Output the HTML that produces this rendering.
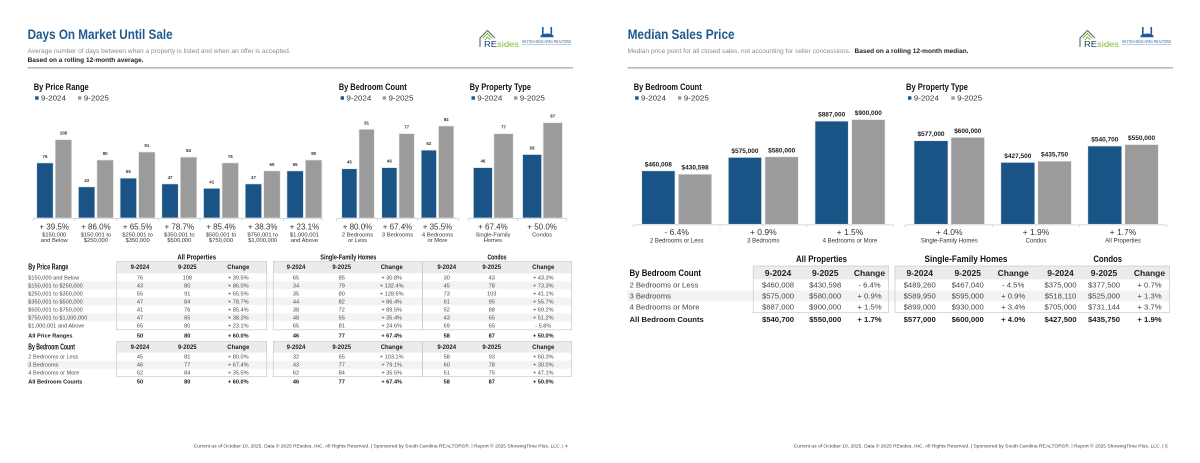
<!DOCTYPE html>
<html><head><meta charset="utf-8"><style>
html,body{margin:0;padding:0;background:#fff}
svg{display:block}
text{font-family:"Liberation Sans",Arial,sans-serif}
.h{font-family:"Liberation Sans Narrow","Liberation Sans",sans-serif;font-weight:bold;fill:#111}
.lg{font-size:7.2px;fill:#333}
.v{font-size:4.4px;font-weight:bold;fill:#333;text-anchor:middle}
.vr{font-size:6.5px;font-weight:bold;fill:#222;text-anchor:middle}
.p{font-size:8px;fill:#333;text-anchor:middle}
.pl{font-size:5.8px;fill:#333;text-anchor:middle}
.pr{font-size:8.5px;fill:#333;text-anchor:middle}
.plr{font-size:6px;fill:#333;text-anchor:middle}
.n{fill:#1a5486;stroke:#dfe7ef;stroke-width:0.7}
.g{fill:#9b9b9b;stroke:#e6e6e6;stroke-width:0.7}
.ax{stroke:#cdd7e2;stroke-width:0.9;fill:none}
.d{font-size:5.6px;fill:#4a4a4a;text-anchor:middle}
.dl{font-size:5.6px;fill:#4a4a4a}
.db{font-size:5.6px;fill:#1a1a1a;font-weight:bold;text-anchor:middle}
.dbl{font-size:5.6px;fill:#1a1a1a;font-weight:bold}
.th{font-family:"Liberation Sans Narrow","Liberation Sans",sans-serif;font-weight:bold;font-size:6px;fill:#222;text-anchor:middle}
.R{font-size:7.7px;fill:#444;text-anchor:middle}
.Rl{font-size:7.7px;fill:#444}
.Rb{font-size:7.7px;fill:#1a1a1a;font-weight:bold;text-anchor:middle}
.Rbl{font-size:7.7px;fill:#1a1a1a;font-weight:bold}
.Rth{font-family:"Liberation Sans Narrow","Liberation Sans",sans-serif;font-weight:bold;font-size:8.5px;fill:#222;text-anchor:middle}
.hb{fill:#ebebeb;stroke:none}
.bx{fill:none;stroke:#c9c9c9;stroke-width:0.7}
.sh{fill:#f3f3f3}
.ft{font-size:4.8px;fill:#444;text-anchor:end}
</style></head><body>
<svg width="1200" height="463" viewBox="0 0 1200 463" xmlns="http://www.w3.org/2000/svg">
<rect width="1200" height="463" fill="#fff"/>

<!-- ================= LEFT PAGE ================= -->
<text x="27.6" y="38.8" font-size="13.5" font-weight="bold" fill="#1f5a8e" textLength="145" lengthAdjust="spacingAndGlyphs">Days On Market Until Sale</text>
<text x="27.6" y="52.8" font-size="6.6" fill="#8a8a8a" textLength="263" lengthAdjust="spacingAndGlyphs">Average number of days between when a property is listed and when an offer is accepted.</text>
<text x="27.6" y="61.8" font-size="6.6" font-weight="bold" fill="#222" textLength="116" lengthAdjust="spacingAndGlyphs">Based on a rolling 12-month average.</text>
<rect x="27.6" y="67" width="545.4" height="1.6" fill="#b8b8b8"/>

<!-- logo left -->
<g>
<path d="M480 47 V38 L487.5 30.5 L495 38" stroke="#5b6670" fill="none" stroke-width="1.1"/>
<path d="M482.8 38.2 L487.5 33.6 L492.2 38.2" stroke="#7cb82f" fill="none" stroke-width="1"/>
<path d="M485 39.6 L487.5 37.1 L490 39.6" stroke="#7cb82f" fill="none" stroke-width="1"/>
<text x="484" y="47" font-size="8.5" textLength="35" lengthAdjust="spacingAndGlyphs"><tspan fill="#1c3d6e">RE</tspan><tspan fill="#7cb82f">sides</tspan></text>
<rect x="542" y="27" width="1.6" height="8" fill="#1c5d99"/>
<rect x="550.5" y="27" width="1.6" height="8" fill="#1c5d99"/>
<path d="M540.5 35.5 Q547 31.5 553.5 35.5 V37.3 H540.5Z" fill="#1c5d99"/>
<text x="522" y="43" font-size="4.3" fill="#2a6aa8" textLength="49" lengthAdjust="spacingAndGlyphs">HILTON HEAD AREA REALTORS</text>
<rect x="522" y="44.4" width="49" height="0.6" fill="#8aa9c8"/>
</g>

<!-- headings & legends -->
<text x="33.7" y="89.8" class="h" font-size="9.2" textLength="55" lengthAdjust="spacingAndGlyphs">By Price Range</text>
<rect x="35.2" y="96.3" width="3.4" height="3.4" fill="#1a5486"/><text x="41" y="100.3" class="lg" textLength="25" lengthAdjust="spacingAndGlyphs">9-2024</text>
<rect x="78" y="96.3" width="3.4" height="3.4" fill="#9b9b9b"/><text x="83.8" y="100.3" class="lg" textLength="25" lengthAdjust="spacingAndGlyphs">9-2025</text>

<text x="338.7" y="89.8" class="h" font-size="9.2" textLength="68" lengthAdjust="spacingAndGlyphs">By Bedroom Count</text>
<rect x="340.6" y="96.3" width="3.4" height="3.4" fill="#1a5486"/><text x="346.4" y="100.3" class="lg" textLength="25" lengthAdjust="spacingAndGlyphs">9-2024</text>
<rect x="382.7" y="96.3" width="3.4" height="3.4" fill="#9b9b9b"/><text x="388.5" y="100.3" class="lg" textLength="25" lengthAdjust="spacingAndGlyphs">9-2025</text>

<text x="469.6" y="89.8" class="h" font-size="9.2" textLength="61.4" lengthAdjust="spacingAndGlyphs">By Property Type</text>
<rect x="471.5" y="96.3" width="3.4" height="3.4" fill="#1a5486"/><text x="477.3" y="100.3" class="lg" textLength="25" lengthAdjust="spacingAndGlyphs">9-2024</text>
<rect x="514" y="96.3" width="3.4" height="3.4" fill="#9b9b9b"/><text x="519.8" y="100.3" class="lg" textLength="25" lengthAdjust="spacingAndGlyphs">9-2025</text>

<!-- Price range chart -->
<path class="ax" d="M33.3 218.5 H322 M33.3 218.5 V221 M75 218.5 V221 M116.7 218.5 V221 M158.4 218.5 V221 M200.1 218.5 V221 M241.8 218.5 V221 M283.5 218.5 V221 M322 218.5 V221"/>
<rect class="n" x="36.7" y="162.9" width="16.5" height="55.1"/><rect class="g" x="55.2" y="139.7" width="16.5" height="78.3"/>
<text class="v" x="44.95" y="157.9">76</text><text class="v" x="63.45" y="134.7">108</text>
<rect class="n" x="78.4" y="186.8" width="16.5" height="31.2"/><rect class="g" x="96.9" y="160" width="16.5" height="58"/>
<text class="v" x="86.65" y="181.8">43</text><text class="v" x="105.15" y="155">80</text>
<rect class="n" x="120.1" y="178.1" width="16.5" height="39.9"/><rect class="g" x="138.6" y="152" width="16.5" height="66"/>
<text class="v" x="128.35" y="173.1">55</text><text class="v" x="146.85" y="147">91</text>
<rect class="n" x="161.8" y="183.9" width="16.5" height="34.1"/><rect class="g" x="180.3" y="157.1" width="16.5" height="60.9"/>
<text class="v" x="170.05" y="178.9">47</text><text class="v" x="188.55" y="152.1">84</text>
<rect class="n" x="203.5" y="188.3" width="16.5" height="29.7"/><rect class="g" x="222" y="162.9" width="16.5" height="55.1"/>
<text class="v" x="211.75" y="183.3">41</text><text class="v" x="230.25" y="157.9">76</text>
<rect class="n" x="245.2" y="183.9" width="16.5" height="34.1"/><rect class="g" x="263.7" y="170.9" width="16.5" height="47.1"/>
<text class="v" x="253.45" y="178.9">47</text><text class="v" x="271.95" y="165.9">65</text>
<rect class="n" x="286.9" y="170.9" width="16.5" height="47.1"/><rect class="g" x="305.4" y="160" width="16.5" height="58"/>
<text class="v" x="295.15" y="165.9">65</text><text class="v" x="313.65" y="155">80</text>

<text class="p" x="54.2" y="229.3">+ 39.5%</text><text class="pl" x="54.2" y="236.5">$150,000</text><text class="pl" x="54.2" y="242">and Below</text>
<text class="p" x="95.9" y="229.3">+ 86.0%</text><text class="pl" x="95.9" y="236.5">$150,001 to</text><text class="pl" x="95.9" y="242">$250,000</text>
<text class="p" x="137.6" y="229.3">+ 65.5%</text><text class="pl" x="137.6" y="236.5">$250,001 to</text><text class="pl" x="137.6" y="242">$350,000</text>
<text class="p" x="179.3" y="229.3">+ 78.7%</text><text class="pl" x="179.3" y="236.5">$350,001 to</text><text class="pl" x="179.3" y="242">$500,000</text>
<text class="p" x="221" y="229.3">+ 85.4%</text><text class="pl" x="221" y="236.5">$500,001 to</text><text class="pl" x="221" y="242">$750,000</text>
<text class="p" x="262.7" y="229.3">+ 38.3%</text><text class="pl" x="262.7" y="236.5">$750,001 to</text><text class="pl" x="262.7" y="242">$1,000,000</text>
<text class="p" x="304.4" y="229.3">+ 23.1%</text><text class="pl" x="304.4" y="236.5">$1,000,001</text><text class="pl" x="304.4" y="242">and Above</text>

<!-- Bedroom chart -->
<path class="ax" d="M336.7 218.5 H458.3 M336.7 218.5 V221 M377.5 218.5 V221 M417.5 218.5 V221 M458.3 218.5 V221"/>
<rect class="n" x="341.7" y="168.7" width="15.3" height="49.3"/><rect class="g" x="359" y="129.3" width="15.3" height="88.7"/>
<text class="v" x="349.35" y="163.7">45</text><text class="v" x="366.65" y="124.3">81</text>
<rect class="n" x="381.7" y="167.6" width="15.3" height="50.4"/><rect class="g" x="399" y="133.7" width="15.3" height="84.3"/>
<text class="v" x="389.35" y="162.6">46</text><text class="v" x="406.65" y="128.7">77</text>
<rect class="n" x="421.2" y="150.1" width="15.3" height="67.9"/><rect class="g" x="438.5" y="126" width="15.3" height="92"/>
<text class="v" x="428.85" y="145.1">62</text><text class="v" x="446.15" y="121">84</text>
<text class="p" x="357.5" y="229.3">+ 80.0%</text><text class="pl" x="357.5" y="236.5">2 Bedrooms</text><text class="pl" x="357.5" y="242">or Less</text>
<text class="p" x="397.5" y="229.3">+ 67.4%</text><text class="pl" x="397.5" y="236.5">3 Bedrooms</text>
<text class="p" x="437.5" y="229.3">+ 35.5%</text><text class="pl" x="437.5" y="236.5">4 Bedrooms</text><text class="pl" x="437.5" y="242">or More</text>

<!-- Property type chart -->
<path class="ax" d="M468.3 218.5 H566.7 M468.3 218.5 V221 M517.5 218.5 V221 M566.7 218.5 V221"/>
<rect class="n" x="473.4" y="167.6" width="19" height="50.4"/><rect class="g" x="493.9" y="133.7" width="19.3" height="84.3"/>
<text class="v" x="482.9" y="162.6">46</text><text class="v" x="503.55" y="128.7">77</text>
<rect class="n" x="522.6" y="154.5" width="19" height="63.5"/><rect class="g" x="543.1" y="122.7" width="19.3" height="95.3"/>
<text class="v" x="532.1" y="149.5">58</text><text class="v" x="552.75" y="117.7">87</text>
<text class="p" x="492.9" y="229.3">+ 67.4%</text><text class="pl" x="492.9" y="236.5">Single-Family</text><text class="pl" x="492.9" y="242">Homes</text>
<text class="p" x="542.1" y="229.3">+ 50.0%</text><text class="pl" x="542.1" y="236.5">Condos</text>

<!-- Left table -->
<text x="196.7" y="259.3" class="h" font-size="7" text-anchor="middle" textLength="38.7" lengthAdjust="spacingAndGlyphs">All Properties</text>
<text x="348.3" y="259.3" class="h" font-size="7" text-anchor="middle" textLength="56" lengthAdjust="spacingAndGlyphs">Single-Family Homes</text>
<text x="497" y="259.3" class="h" font-size="7" text-anchor="middle" textLength="19" lengthAdjust="spacingAndGlyphs">Condos</text>

<!-- shaded rows -->
<rect class="sh" x="27" y="281.3" width="545" height="8"/>
<rect class="sh" x="27" y="297.3" width="545" height="8"/>
<rect class="sh" x="27" y="313.3" width="545" height="8"/>
<rect class="sh" x="27" y="360.7" width="545" height="8"/>

<!-- header fills section 1 -->
<rect class="hb" x="116.7" y="261.7" width="150" height="11.6"/>
<rect class="hb" x="273.3" y="261.7" width="149.2" height="11.6"/>
<rect class="hb" x="422.5" y="261.7" width="149.2" height="11.6"/>
<rect class="bx" x="116.7" y="261.7" width="150" height="68.1"/>
<rect class="bx" x="273.3" y="261.7" width="149.2" height="68.1"/>
<rect class="bx" x="422.5" y="261.7" width="149.2" height="68.1"/>
<!-- header fills section 2 -->
<rect class="hb" x="116.7" y="341.7" width="150" height="11"/>
<rect class="hb" x="273.3" y="341.7" width="149.2" height="11"/>
<rect class="hb" x="422.5" y="341.7" width="149.2" height="11"/>
<rect class="bx" x="116.7" y="341.7" width="150" height="35"/>
<rect class="bx" x="273.3" y="341.7" width="149.2" height="35"/>
<rect class="bx" x="422.5" y="341.7" width="149.2" height="35"/>

<text x="28.3" y="269.3" class="h" font-size="7.8" textLength="40" lengthAdjust="spacingAndGlyphs">By Price Range</text>
<g class="th">
<text x="140" y="269">9-2024</text><text x="187.3" y="269">9-2025</text><text x="238.3" y="269">Change</text>
<text x="296" y="269">9-2024</text><text x="341.7" y="269">9-2025</text><text x="391.7" y="269">Change</text>
<text x="446.7" y="269">9-2024</text><text x="491.7" y="269">9-2025</text><text x="543.3" y="269">Change</text>
</g>

<g>
<text class="dl" x="28.3" y="279.3">$150,000 and Below</text>
<text class="d" x="140" y="279.3">76</text><text class="d" x="187.3" y="279.3">108</text><text class="d" x="238.3" y="279.3">+ 39.5%</text>
<text class="d" x="296" y="279.3">65</text><text class="d" x="341.7" y="279.3">85</text><text class="d" x="391.7" y="279.3">+ 30.8%</text>
<text class="d" x="446.7" y="279.3">30</text><text class="d" x="491.7" y="279.3">43</text><text class="d" x="543.3" y="279.3">+ 43.3%</text>

<text class="dl" x="28.3" y="287.3">$150,001 to $250,000</text>
<text class="d" x="140" y="287.3">43</text><text class="d" x="187.3" y="287.3">80</text><text class="d" x="238.3" y="287.3">+ 86.0%</text>
<text class="d" x="296" y="287.3">34</text><text class="d" x="341.7" y="287.3">79</text><text class="d" x="391.7" y="287.3">+ 132.4%</text>
<text class="d" x="446.7" y="287.3">45</text><text class="d" x="491.7" y="287.3">78</text><text class="d" x="543.3" y="287.3">+ 73.3%</text>

<text class="dl" x="28.3" y="295.3">$250,001 to $350,000</text>
<text class="d" x="140" y="295.3">55</text><text class="d" x="187.3" y="295.3">91</text><text class="d" x="238.3" y="295.3">+ 65.5%</text>
<text class="d" x="296" y="295.3">35</text><text class="d" x="341.7" y="295.3">80</text><text class="d" x="391.7" y="295.3">+ 128.6%</text>
<text class="d" x="446.7" y="295.3">73</text><text class="d" x="491.7" y="295.3">103</text><text class="d" x="543.3" y="295.3">+ 41.1%</text>

<text class="dl" x="28.3" y="303.3">$350,001 to $500,000</text>
<text class="d" x="140" y="303.3">47</text><text class="d" x="187.3" y="303.3">84</text><text class="d" x="238.3" y="303.3">+ 78.7%</text>
<text class="d" x="296" y="303.3">44</text><text class="d" x="341.7" y="303.3">82</text><text class="d" x="391.7" y="303.3">+ 86.4%</text>
<text class="d" x="446.7" y="303.3">61</text><text class="d" x="491.7" y="303.3">95</text><text class="d" x="543.3" y="303.3">+ 55.7%</text>

<text class="dl" x="28.3" y="311.3">$500,001 to $750,000</text>
<text class="d" x="140" y="311.3">41</text><text class="d" x="187.3" y="311.3">76</text><text class="d" x="238.3" y="311.3">+ 85.4%</text>
<text class="d" x="296" y="311.3">38</text><text class="d" x="341.7" y="311.3">72</text><text class="d" x="391.7" y="311.3">+ 89.5%</text>
<text class="d" x="446.7" y="311.3">52</text><text class="d" x="491.7" y="311.3">88</text><text class="d" x="543.3" y="311.3">+ 69.2%</text>

<text class="dl" x="28.3" y="319.3">$750,001 to $1,000,000</text>
<text class="d" x="140" y="319.3">47</text><text class="d" x="187.3" y="319.3">65</text><text class="d" x="238.3" y="319.3">+ 38.3%</text>
<text class="d" x="296" y="319.3">48</text><text class="d" x="341.7" y="319.3">65</text><text class="d" x="391.7" y="319.3">+ 35.4%</text>
<text class="d" x="446.7" y="319.3">43</text><text class="d" x="491.7" y="319.3">65</text><text class="d" x="543.3" y="319.3">+ 51.2%</text>

<text class="dl" x="28.3" y="327.3">$1,000,001 and Above</text>
<text class="d" x="140" y="327.3">65</text><text class="d" x="187.3" y="327.3">80</text><text class="d" x="238.3" y="327.3">+ 23.1%</text>
<text class="d" x="296" y="327.3">65</text><text class="d" x="341.7" y="327.3">81</text><text class="d" x="391.7" y="327.3">+ 24.6%</text>
<text class="d" x="446.7" y="327.3">69</text><text class="d" x="491.7" y="327.3">65</text><text class="d" x="543.3" y="327.3">- 5.8%</text>

<text class="dbl" x="28.3" y="337.7">All Price Ranges</text>
<text class="db" x="140" y="337.7">50</text><text class="db" x="187.3" y="337.7">80</text><text class="db" x="238.3" y="337.7">+ 60.0%</text>
<text class="db" x="296" y="337.7">46</text><text class="db" x="341.7" y="337.7">77</text><text class="db" x="391.7" y="337.7">+ 67.4%</text>
<text class="db" x="446.7" y="337.7">58</text><text class="db" x="491.7" y="337.7">87</text><text class="db" x="543.3" y="337.7">+ 50.0%</text>
</g>

<text x="28.3" y="349.3" class="h" font-size="7.8" textLength="46.7" lengthAdjust="spacingAndGlyphs">By Bedroom Count</text>
<g class="th">
<text x="140" y="349">9-2024</text><text x="187.3" y="349">9-2025</text><text x="238.3" y="349">Change</text>
<text x="296" y="349">9-2024</text><text x="341.7" y="349">9-2025</text><text x="391.7" y="349">Change</text>
<text x="446.7" y="349">9-2024</text><text x="491.7" y="349">9-2025</text><text x="543.3" y="349">Change</text>
</g>
<g>
<text class="dl" x="28.3" y="358.7">2 Bedrooms or Less</text>
<text class="d" x="140" y="358.7">45</text><text class="d" x="187.3" y="358.7">81</text><text class="d" x="238.3" y="358.7">+ 80.0%</text>
<text class="d" x="296" y="358.7">32</text><text class="d" x="341.7" y="358.7">65</text><text class="d" x="391.7" y="358.7">+ 103.1%</text>
<text class="d" x="446.7" y="358.7">58</text><text class="d" x="491.7" y="358.7">93</text><text class="d" x="543.3" y="358.7">+ 60.3%</text>

<text class="dl" x="28.3" y="366.7">3 Bedrooms</text>
<text class="d" x="140" y="366.7">46</text><text class="d" x="187.3" y="366.7">77</text><text class="d" x="238.3" y="366.7">+ 67.4%</text>
<text class="d" x="296" y="366.7">43</text><text class="d" x="341.7" y="366.7">77</text><text class="d" x="391.7" y="366.7">+ 79.1%</text>
<text class="d" x="446.7" y="366.7">60</text><text class="d" x="491.7" y="366.7">78</text><text class="d" x="543.3" y="366.7">+ 30.0%</text>

<text class="dl" x="28.3" y="374.7">4 Bedrooms or More</text>
<text class="d" x="140" y="374.7">62</text><text class="d" x="187.3" y="374.7">84</text><text class="d" x="238.3" y="374.7">+ 35.5%</text>
<text class="d" x="296" y="374.7">62</text><text class="d" x="341.7" y="374.7">84</text><text class="d" x="391.7" y="374.7">+ 35.5%</text>
<text class="d" x="446.7" y="374.7">51</text><text class="d" x="491.7" y="374.7">75</text><text class="d" x="543.3" y="374.7">+ 47.1%</text>

<text class="dbl" x="28.3" y="383.7">All Bedroom Counts</text>
<text class="db" x="140" y="383.7">50</text><text class="db" x="187.3" y="383.7">80</text><text class="db" x="238.3" y="383.7">+ 60.0%</text>
<text class="db" x="296" y="383.7">46</text><text class="db" x="341.7" y="383.7">77</text><text class="db" x="391.7" y="383.7">+ 67.4%</text>
<text class="db" x="446.7" y="383.7">58</text><text class="db" x="491.7" y="383.7">87</text><text class="db" x="543.3" y="383.7">+ 50.0%</text>
</g>

<text class="ft" x="567.7" y="447.6" textLength="374" lengthAdjust="spacingAndGlyphs">Current as of October 10, 2025. Data © 2025 REsides, INC. All Rights Reserved. | Sponsored by South Carolina REALTORS®. | Report © 2025 ShowingTime Plus, LLC. | 4</text>

<!-- ================= RIGHT PAGE ================= -->
<text x="627.6" y="38.8" font-size="13.5" font-weight="bold" fill="#1f5a8e" textLength="107" lengthAdjust="spacingAndGlyphs">Median Sales Price</text>
<text x="627.6" y="52.8" font-size="6.6" fill="#8a8a8a" textLength="223" lengthAdjust="spacingAndGlyphs">Median price point for all closed sales, not accounting for seller concessions.</text>
<text x="854.5" y="52.8" font-size="6.6" font-weight="bold" fill="#222" textLength="114" lengthAdjust="spacingAndGlyphs">Based on a rolling 12-month median.</text>
<rect x="627.6" y="67" width="545.4" height="1.6" fill="#b8b8b8"/>

<!-- logo right -->
<g transform="translate(600,0)">
<path d="M480 47 V38 L487.5 30.5 L495 38" stroke="#5b6670" fill="none" stroke-width="1.1"/>
<path d="M482.8 38.2 L487.5 33.6 L492.2 38.2" stroke="#7cb82f" fill="none" stroke-width="1"/>
<path d="M485 39.6 L487.5 37.1 L490 39.6" stroke="#7cb82f" fill="none" stroke-width="1"/>
<text x="484" y="47" font-size="8.5" textLength="35" lengthAdjust="spacingAndGlyphs"><tspan fill="#1c3d6e">RE</tspan><tspan fill="#7cb82f">sides</tspan></text>
<rect x="542" y="27" width="1.6" height="8" fill="#1c5d99"/>
<rect x="550.5" y="27" width="1.6" height="8" fill="#1c5d99"/>
<path d="M540.5 35.5 Q547 31.5 553.5 35.5 V37.3 H540.5Z" fill="#1c5d99"/>
<text x="522" y="43" font-size="4.3" fill="#2a6aa8" textLength="49" lengthAdjust="spacingAndGlyphs">HILTON HEAD AREA REALTORS</text>
<rect x="522" y="44.4" width="49" height="0.6" fill="#8aa9c8"/>
</g>

<text x="633.7" y="89.8" class="h" font-size="9.2" textLength="68" lengthAdjust="spacingAndGlyphs">By Bedroom Count</text>
<rect x="635.2" y="96.3" width="3.4" height="3.4" fill="#1a5486"/><text x="641" y="100.3" class="lg" textLength="25" lengthAdjust="spacingAndGlyphs">9-2024</text>
<rect x="678" y="96.3" width="3.4" height="3.4" fill="#9b9b9b"/><text x="683.8" y="100.3" class="lg" textLength="25" lengthAdjust="spacingAndGlyphs">9-2025</text>

<text x="906" y="89.8" class="h" font-size="9.2" textLength="62" lengthAdjust="spacingAndGlyphs">By Property Type</text>
<rect x="908" y="96.3" width="3.4" height="3.4" fill="#1a5486"/><text x="913.8" y="100.3" class="lg" textLength="25" lengthAdjust="spacingAndGlyphs">9-2024</text>
<rect x="951.3" y="96.3" width="3.4" height="3.4" fill="#9b9b9b"/><text x="957.1" y="100.3" class="lg" textLength="25" lengthAdjust="spacingAndGlyphs">9-2025</text>

<!-- Right chart 1 -->
<path class="ax" d="M633.3 224.8 H893.3 M633.3 224.8 V227.3 M720 224.8 V227.3 M806.7 224.8 V227.3 M893.3 224.8 V227.3"/>
<rect class="n" x="641.7" y="170.8" width="33.3" height="53.5"/><rect class="g" x="678.4" y="174.2" width="33.3" height="50.1"/>
<text class="vr" x="658.35" y="166.3">$460,008</text><text class="vr" x="695.05" y="169.7">$430,598</text>
<rect class="n" x="728.3" y="157.4" width="33.3" height="66.9"/><rect class="g" x="765" y="156.8" width="33.3" height="67.5"/>
<text class="vr" x="744.95" y="152.9">$575,000</text><text class="vr" x="781.65" y="152.3">$580,000</text>
<rect class="n" x="815" y="121.1" width="33.3" height="103.2"/><rect class="g" x="851.7" y="119.6" width="33.3" height="104.7"/>
<text class="vr" x="831.65" y="116.6">$887,000</text><text class="vr" x="868.35" y="115.1">$900,000</text>
<text class="pr" x="676.7" y="235">- 6.4%</text><text class="plr" x="676.7" y="242.5">2 Bedrooms or Less</text>
<text class="pr" x="763.3" y="235">+ 0.9%</text><text class="plr" x="763.3" y="242.5">3 Bedrooms</text>
<text class="pr" x="850" y="235">+ 1.5%</text><text class="plr" x="850" y="242.5">4 Bedrooms or More</text>

<!-- Right chart 2 -->
<path class="ax" d="M905 224.8 H1166.7 M905 224.8 V227.3 M992.3 224.8 V227.3 M1079.5 224.8 V227.3 M1166.7 224.8 V227.3"/>
<rect class="n" x="914" y="140.7" width="34" height="83.6"/><rect class="g" x="951" y="137.4" width="33.5" height="86.9"/>
<text class="vr" x="931" y="136.2">$577,000</text><text class="vr" x="967.75" y="132.9">$600,000</text>
<rect class="n" x="1000.8" y="162.4" width="34" height="61.9"/><rect class="g" x="1037.8" y="161.2" width="33.5" height="63.1"/>
<text class="vr" x="1017.8" y="157.9">$427,500</text><text class="vr" x="1054.55" y="156.7">$435,750</text>
<rect class="n" x="1087.8" y="146" width="34" height="78.3"/><rect class="g" x="1124.8" y="144.6" width="33.5" height="79.7"/>
<text class="vr" x="1104.8" y="141.5">$540,700</text><text class="vr" x="1141.55" y="140.1">$550,000</text>
<text class="pr" x="949.2" y="235">+ 4.0%</text><text class="plr" x="949.2" y="242.5">Single-Family Homes</text>
<text class="pr" x="1036" y="235">+ 1.9%</text><text class="plr" x="1036" y="242.5">Condos</text>
<text class="pr" x="1123" y="235">+ 1.7%</text><text class="plr" x="1123" y="242.5">All Properties</text>

<!-- Right table -->
<text x="821.5" y="261.8" class="h" font-size="9.5" text-anchor="middle" textLength="51" lengthAdjust="spacingAndGlyphs">All Properties</text>
<text x="966" y="261.8" class="h" font-size="9.5" text-anchor="middle" textLength="83" lengthAdjust="spacingAndGlyphs">Single-Family Homes</text>
<text x="1107.7" y="261.8" class="h" font-size="9.5" text-anchor="middle" textLength="28.7" lengthAdjust="spacingAndGlyphs">Condos</text>

<rect class="sh" x="627" y="290.3" width="543" height="11"/>
<rect class="hb" x="753.2" y="266" width="135.3" height="13.3"/>
<rect class="hb" x="895" y="266" width="274.5" height="13.3"/>
<rect class="bx" x="753.2" y="266" width="135.3" height="46.7"/>
<rect class="bx" x="895" y="266" width="274.5" height="46.7"/>

<text x="629.5" y="276" class="h" font-size="9.5" textLength="71.5" lengthAdjust="spacingAndGlyphs">By Bedroom Count</text>
<g class="Rth">
<text x="778" y="275.8">9-2024</text><text x="825.2" y="275.8">9-2025</text><text x="869.5" y="275.8">Change</text>
<text x="919.7" y="275.8">9-2024</text><text x="967.7" y="275.8">9-2025</text><text x="1013.2" y="275.8">Change</text>
<text x="1060.5" y="275.8">9-2024</text><text x="1104" y="275.8">9-2025</text><text x="1149.5" y="275.8">Change</text>
</g>
<g>
<text class="Rl" x="629.5" y="287.5">2 Bedrooms or Less</text>
<text class="R" x="778" y="287.5">$460,008</text><text class="R" x="825.2" y="287.5">$430,598</text><text class="R" x="869.5" y="287.5">- 6.4%</text>
<text class="R" x="919.7" y="287.5">$489,260</text><text class="R" x="967.7" y="287.5">$467,040</text><text class="R" x="1013.2" y="287.5">- 4.5%</text>
<text class="R" x="1060.5" y="287.5">$375,000</text><text class="R" x="1104" y="287.5">$377,500</text><text class="R" x="1149.5" y="287.5">+ 0.7%</text>

<text class="Rl" x="629.5" y="298.5">3 Bedrooms</text>
<text class="R" x="778" y="298.5">$575,000</text><text class="R" x="825.2" y="298.5">$580,000</text><text class="R" x="869.5" y="298.5">+ 0.9%</text>
<text class="R" x="919.7" y="298.5">$589,950</text><text class="R" x="967.7" y="298.5">$595,000</text><text class="R" x="1013.2" y="298.5">+ 0.9%</text>
<text class="R" x="1060.5" y="298.5">$518,110</text><text class="R" x="1104" y="298.5">$525,000</text><text class="R" x="1149.5" y="298.5">+ 1.3%</text>

<text class="Rl" x="629.5" y="309.5">4 Bedrooms or More</text>
<text class="R" x="778" y="309.5">$887,000</text><text class="R" x="825.2" y="309.5">$900,000</text><text class="R" x="869.5" y="309.5">+ 1.5%</text>
<text class="R" x="919.7" y="309.5">$899,000</text><text class="R" x="967.7" y="309.5">$930,000</text><text class="R" x="1013.2" y="309.5">+ 3.4%</text>
<text class="R" x="1060.5" y="309.5">$705,000</text><text class="R" x="1104" y="309.5">$731,144</text><text class="R" x="1149.5" y="309.5">+ 3.7%</text>

<text class="Rbl" x="629.5" y="322">All Bedroom Counts</text>
<text class="Rb" x="778" y="322">$540,700</text><text class="Rb" x="825.2" y="322">$550,000</text><text class="Rb" x="869.5" y="322">+ 1.7%</text>
<text class="Rb" x="919.7" y="322">$577,000</text><text class="Rb" x="967.7" y="322">$600,000</text><text class="Rb" x="1013.2" y="322">+ 4.0%</text>
<text class="Rb" x="1060.5" y="322">$427,500</text><text class="Rb" x="1104" y="322">$435,750</text><text class="Rb" x="1149.5" y="322">+ 1.9%</text>
</g>

<text class="ft" x="1167.7" y="447.6" textLength="374" lengthAdjust="spacingAndGlyphs">Current as of October 10, 2025. Data © 2025 REsides, INC. All Rights Reserved. | Sponsored by South Carolina REALTORS®. | Report © 2025 ShowingTime Plus, LLC. | 5</text>
</svg>
</body></html>
